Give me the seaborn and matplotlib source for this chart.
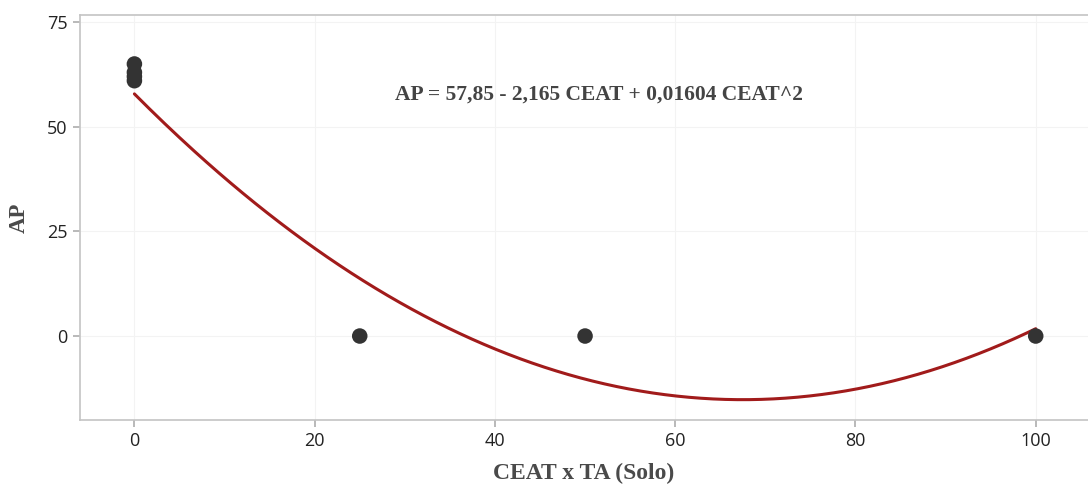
import numpy as np
import pandas as pd
import matplotlib
matplotlib.use("Agg")
import matplotlib.pyplot as plt
import seaborn as sns

# data
ceat = [0, 0, 0, 0, 25, 50, 100]
ap = [65, 63, 62, 61, 0, 0, 0]
coef = [57.85, -2.165, 0.01604]  # fitted quadratic (from equation text)
xticks = [0, 20, 40, 60, 80, 100]
yticks = [0, 25, 50, 75]
equation = "AP = 57,85 - 2,165 CEAT + 0,01604 CEAT^2"

sns.set_theme(style="white")
plt.rcParams['font.family'] = ['Open Sans', 'DejaVu Sans']

fig = plt.figure(figsize=(10.88, 4.87), dpi=100)
ax = fig.add_axes([0.0735, 0.1376, 0.9265, 0.8316])

df = pd.DataFrame({"CEAT": ceat, "AP": ap})
xf = np.linspace(0, 100, 300)
yf = coef[0] + coef[1] * xf + coef[2] * xf ** 2
sns.lineplot(x=xf, y=yf, ax=ax, color="#a11b1b", linewidth=2.2, zorder=2)
sns.scatterplot(data=df, x="CEAT", y="AP", ax=ax, color="#333333", s=125,
                edgecolor="none", zorder=3)

ax.set_xlim(-6.04, 105.8)
ax.set_ylim(-20.06, 76.7)
ax.set_xticks(xticks)
ax.set_yticks(yticks)
ax.grid(True, color="#f3f3f3", linewidth=0.8)
ax.set_axisbelow(True)
for s in ["left", "bottom", "top"]:
    ax.spines[s].set_color("#c4c4c4")
    ax.spines[s].set_linewidth(1.2)
ax.spines["right"].set_visible(False)
ax.tick_params(axis="both", length=5, color="#b0b0b0", labelsize=13,
               labelcolor="#222222", left=True, bottom=True, pad=4)

serif = ['Liberation Serif', 'DejaVu Serif']
ax.set_xlabel("CEAT x TA (Solo)", family=serif, fontweight="bold",
              fontsize=17, color="#4a4a4a", labelpad=9)
ax.set_ylabel("AP", family=serif, fontweight="bold", fontsize=16.5,
              color="#4a4a4a", labelpad=12)
ax.text(51.5, 57.6, equation, family=serif, fontweight="bold", fontsize=15.5,
        color="#444444", ha="center", va="center")

fig.savefig("out.png", dpi=100)
